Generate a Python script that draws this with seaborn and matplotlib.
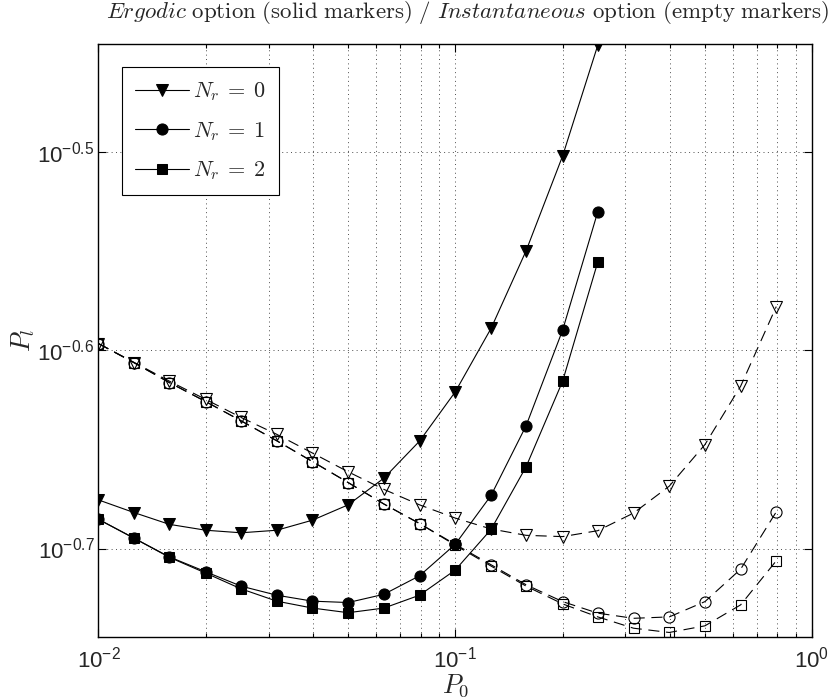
import matplotlib
matplotlib.use('Agg')
import seaborn as sns
from matplotlib import pyplot as plt
from matplotlib.font_manager import FontProperties
from matplotlib.ticker import FixedLocator, NullLocator, LogLocator, NullFormatter

# P0 values (log spaced)
p0 = [0.01, 0.0126, 0.0158, 0.02, 0.0251, 0.0316, 0.0398, 0.0501, 0.0631, 0.0794,
      0.1, 0.126, 0.158, 0.2, 0.251, 0.316, 0.398, 0.501, 0.631, 0.794]

# Ergodic option (solid markers), 15 points each
ergodic_nr0 = [0.2111, 0.2080, 0.2052, 0.2038, 0.2032, 0.2038, 0.2062, 0.2099, 0.2165,
               0.2260, 0.2393, 0.2576, 0.2819, 0.3147, 0.3579]
ergodic_nr1 = [0.2064, 0.2019, 0.1976, 0.1942, 0.1910, 0.1890, 0.1877, 0.1874, 0.1892,
               0.1933, 0.2005, 0.2122, 0.2301, 0.2571, 0.2950]
ergodic_nr2 = [0.2064, 0.2019, 0.1975, 0.1939, 0.1904, 0.1877, 0.1862, 0.1852, 0.1862,
               0.1890, 0.1946, 0.2040, 0.2194, 0.2423, 0.2783]

# Instantaneous option (empty markers), 20 points each
inst_nr0 = [0.2531, 0.2476, 0.2423, 0.2372, 0.2323, 0.2278, 0.2229, 0.2181, 0.2137, 0.2099,
            0.2067, 0.2041, 0.2026, 0.2023, 0.2037, 0.2079, 0.2145, 0.2251, 0.2409, 0.2642]
inst_nr1 = [0.2531, 0.2475, 0.2419, 0.2366, 0.2314, 0.2261, 0.2207, 0.2154, 0.2101, 0.2054,
            0.2005, 0.1958, 0.1913, 0.1876, 0.1851, 0.1840, 0.1843, 0.1876, 0.1948, 0.2082]
inst_nr2 = [0.2531, 0.2475, 0.2419, 0.2366, 0.2314, 0.2261, 0.2207, 0.2154, 0.2101, 0.2054,
            0.2003, 0.1955, 0.1910, 0.1871, 0.1843, 0.1819, 0.1810, 0.1824, 0.1869, 0.1967]

labels = [r'$N_r\:=\:0$', r'$N_r\:=\:1$', r'$N_r\:=\:2$']
markers = ['v', 'o', 's']
msizes = [8, 8, 6.5]
ytick_exps = [-0.7, -0.6, -0.5]

sns.set_style('ticks')
plt.rcParams['font.family'] = ['Liberation Sans', 'DejaVu Sans']
plt.rcParams['mathtext.fontset'] = 'custom'
plt.rcParams['mathtext.rm'] = 'Liberation Sans'
plt.rcParams['mathtext.it'] = 'Liberation Sans:italic'

fig = plt.figure(figsize=(8.29, 6.98), dpi=100)
ax = fig.add_axes([0.1188, 0.0874, 0.8607, 0.8496])
ax.set_xscale('log')
ax.set_yscale('log')

handles = []
for vals, m, ms in zip([ergodic_nr0, ergodic_nr1, ergodic_nr2], markers, msizes):
    sns.lineplot(x=p0[:len(vals)], y=vals, ax=ax, color='k', lw=0.8, marker=m,
                 markersize=ms, markerfacecolor='k', markeredgecolor='k',
                 errorbar=None, legend=False)
    handles.append(ax.lines[-1])

for vals, m, ms in zip([inst_nr0, inst_nr1, inst_nr2], markers, msizes):
    sns.lineplot(x=p0, y=vals, ax=ax, color='k', lw=0.8, marker=m, markersize=ms,
                 markerfacecolor='none', markeredgecolor='k', markeredgewidth=0.8,
                 errorbar=None, legend=False)
    ax.lines[-1].set_dashes((10, 6))

ax.set_xlim(0.01, 1)
ax.set_ylim(10 ** -0.7446, 10 ** -0.4457)

ax.xaxis.set_major_locator(LogLocator(base=10, numticks=10))
ax.xaxis.set_minor_locator(LogLocator(base=10, subs=range(2, 10), numticks=10))
ax.xaxis.set_minor_formatter(NullFormatter())
ax.yaxis.set_major_locator(FixedLocator([10 ** e for e in ytick_exps]))
ax.yaxis.set_minor_locator(NullLocator())
ax.set_yticklabels([r'$10^{%g}$' % e for e in ytick_exps])

ax.tick_params(which='both', direction='in', top=True, right=True, width=0.8,
               labelsize=16, color='k')
ax.tick_params(which='major', length=6)
ax.tick_params(which='minor', length=3)
ax.tick_params(axis='x', pad=7)
ax.tick_params(axis='y', pad=3)

ax.grid(which='major', ls=(0, (1, 3.5)), lw=0.7, color='0.3')
ax.grid(which='minor', axis='x', ls=(0, (1, 3.5)), lw=0.7, color='0.3')
for s in ax.spines.values():
    s.set_linewidth(1.0)
    s.set_color('k')

ax.set_xlabel(r'$P_0$', fontsize=19, math_fontfamily='cm', labelpad=0)
ax.set_ylabel(r'$P_l$', fontsize=19, math_fontfamily='cm', labelpad=0)

title = (r'$\mathit{Ergodic}\ \mathrm{option\ (solid\ markers)\ /\ }'
         r'\mathit{Instantaneous}\ \mathrm{option\ (empty\ markers)}$')
fig.text(0.5645, 0.982, title, ha='center', va='center', fontsize=16.5, math_fontfamily='cm')

leg = ax.legend(handles=handles, labels=labels, loc='upper left',
                bbox_to_anchor=(0.033, 0.961), borderaxespad=0, fancybox=False,
                framealpha=1, edgecolor='k', numpoints=1, handlelength=2.4,
                handletextpad=0.2, labelspacing=0.75, borderpad=0.6,
                prop=FontProperties(size=16, math_fontfamily='cm'))
leg.get_frame().set_linewidth(0.8)

fig.savefig('out.png', dpi=100)
